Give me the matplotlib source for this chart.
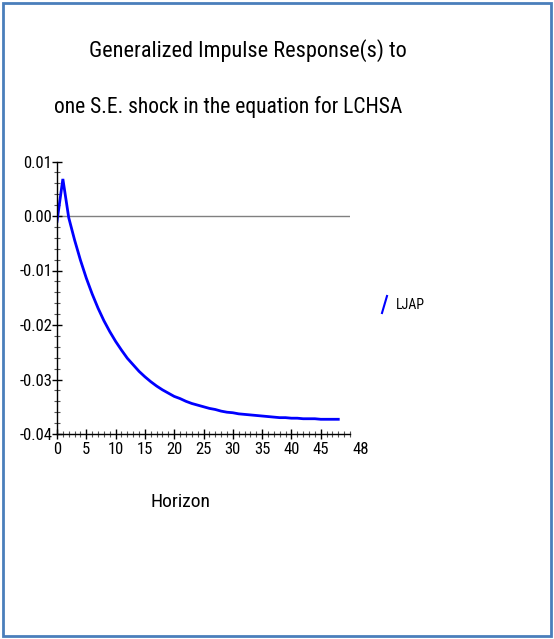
import numpy as np
import matplotlib.pyplot as plt
from matplotlib import font_manager
from matplotlib.lines import Line2D
from matplotlib.patches import Rectangle
from matplotlib.ticker import MultipleLocator

# narrow face if there is one, else Arial-metric Liberation Sans scaled down
names = {f.name for f in font_manager.fontManager.ttflist}
narrow = [n for n in ['Liberation Sans Narrow', 'Roboto Condensed', 'Open Sans Condensed',
                      'DejaVu Sans Condensed'] if n in names]
if narrow:
    face, k = narrow[0], 1.0
else:
    face, k = 'Liberation Sans', 0.82
plt.rcParams['font.family'] = [face, 'DejaVu Sans']

# generalized impulse response of LJAP, horizons 0..48
horizon = np.arange(0, 49)
ljap = [-0.0010, 0.0068, -0.0003, -0.0044, -0.0081, -0.0114, -0.0143, -0.0169,
        -0.0192, -0.0212, -0.0230, -0.0246, -0.0261, -0.0273, -0.0285, -0.0295,
        -0.0304, -0.0312, -0.0319, -0.0325, -0.0331, -0.0335, -0.0340, -0.0344,
        -0.0347, -0.0350, -0.0353, -0.0355, -0.0358, -0.0360, -0.0361, -0.0363,
        -0.0364, -0.0365, -0.0366, -0.0367, -0.0368, -0.0369, -0.0370, -0.0370,
        -0.0371, -0.0371, -0.0372, -0.0372, -0.0372, -0.0373, -0.0373, -0.0373,
        -0.0373]
xticks = [0, 5, 10, 15, 20, 25, 30, 35, 40, 45]
yticks = [0.01, 0.00, -0.01, -0.02, -0.03, -0.04]
title1 = "Generalized Impulse Response(s) to"
title2 = "one S.E. shock in the equation for LCHSA"

W, H = 554, 639
fig = plt.figure(figsize=(W / 100, H / 100), dpi=100)
fig.patch.set_facecolor('white')

# frame round the whole picture
fig.add_artist(Rectangle((3 / W, 3 / H), 548 / W, 633 / H, transform=fig.transFigure,
                         fill=False, edgecolor='#4a7ebb', lw=2))

ax = fig.add_axes([57 / W, (H - 434) / H, 293 / W, 272.5 / H])
ax.plot(horizon, ljap, color='#0000ff', lw=2, solid_joinstyle='miter')
ax.axhline(0, color='#808080', lw=1, zorder=1)

ax.set_xlim(0, 50)
ax.set_ylim(-0.04, 0.01)
ax.set_xticks(xticks)
ax.set_yticks(yticks)
ax.set_yticklabels(['%.2f' % v for v in yticks])
ax.xaxis.set_minor_locator(MultipleLocator(1))
ax.yaxis.set_minor_locator(MultipleLocator(0.002))
ax.tick_params(axis='both', which='major', direction='inout', length=7, width=1,
               labelsize=12 * k, colors='black')
ax.tick_params(axis='both', which='minor', direction='inout', length=5, width=0.8,
               color='#555555')
ax.tick_params(axis='y', which='major', pad=0)
ax.tick_params(axis='x', which='major', pad=2)
for s in ['top', 'right']:
    ax.spines[s].set_visible(False)
for s in ['left', 'bottom']:
    ax.spines[s].set_linewidth(1)

# last horizon label sits past the axis end
ax.annotate('48', xy=(1, 0), xycoords='axes fraction', xytext=(8, -5.5),
            textcoords='offset points', ha='center', va='top', fontsize=12 * k)

fig.text(248 / W, 1 - 51 / H, title1, ha='center', va='center', fontsize=16 * k)
fig.text(228 / W, 1 - 107 / H, title2, ha='center', va='center', fontsize=15.5 * k)
fig.text(180 / W, 1 - 502 / H, 'Horizon', ha='center', va='center', fontsize=14 * k)

# legend
fig.add_artist(Line2D([382 / W, 387 / W], [1 - 313 / H, 1 - 296 / H],
                      transform=fig.transFigure, color='#0000ff', lw=1.5))
fig.text(396 / W, 1 - 305 / H, 'LJAP', ha='left', va='center', fontsize=10 * k)

fig.savefig('out.png', dpi=100)
